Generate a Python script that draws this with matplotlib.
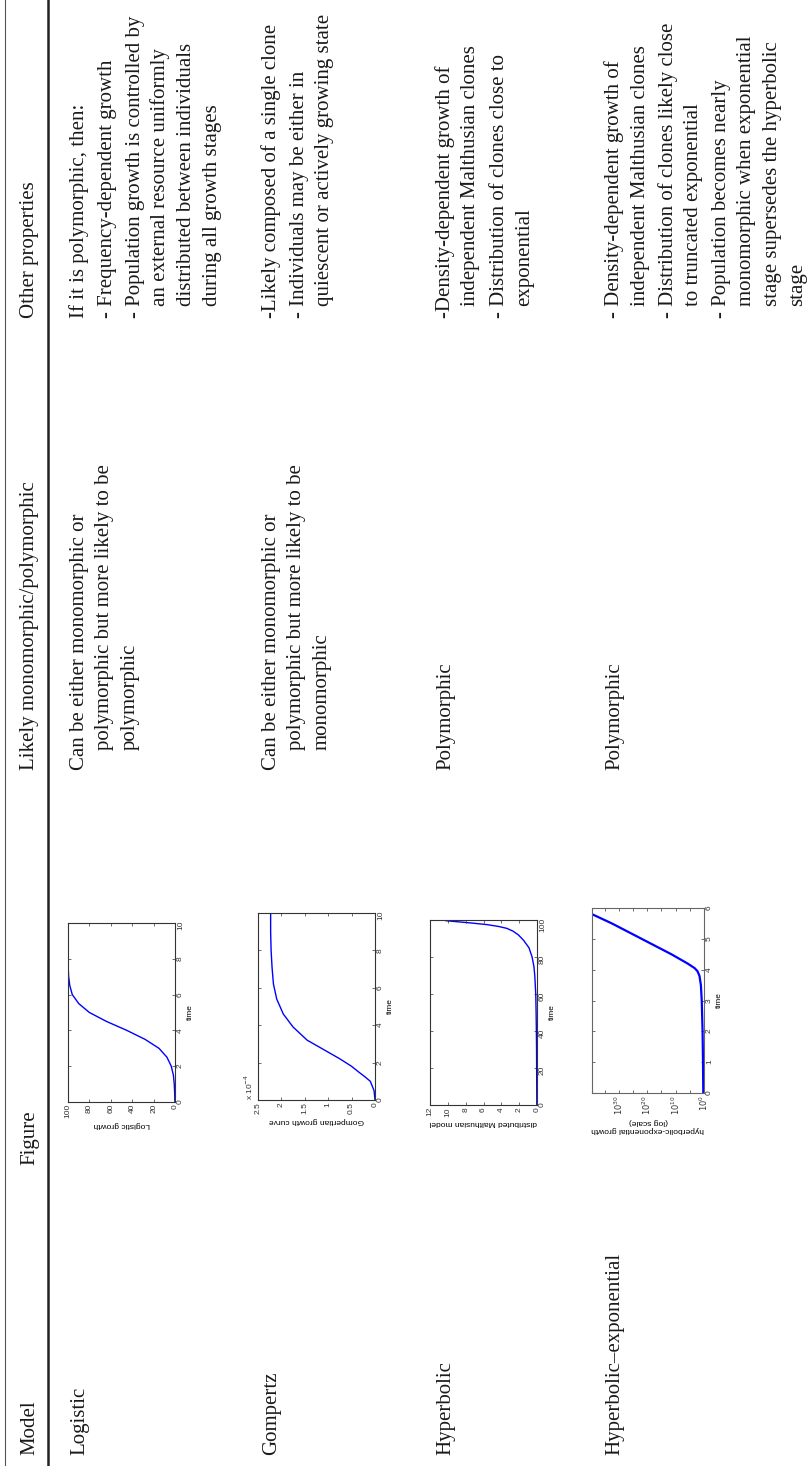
#!/usr/bin/env python3
"""
Rotated comparison table of growth models (page turned 90 degrees),
with a small MATLAB-style curve for each model in the Figure column.
"""

import numpy as np
import matplotlib.pyplot as plt
from matplotlib.ticker import FixedLocator, FuncFormatter, NullLocator

W, H = 810, 1466

HEADERS = ["Model", "Figure", "Likely monomorphic/polymorphic", "Other properties"]
MODELS = ["Logistic", "Gompertz", "Hyperbolic", "Hyperbolic\u2013exponential"]

LIKELY = [
    ["Can be either monomorphic or", "polymorphic but more likely to be", "polymorphic"],
    ["Can be either monomorphic or", "polymorphic but more likely to be", "monomorphic"],
    ["Polymorphic"],
    ["Polymorphic"],
]

OTHER = [
    ["If it is polymorphic, then:",
     "- Frequency-dependent growth",
     "- Population growth is controlled by",
     "an external resource uniformly",
     "distributed between individuals",
     "during all growth stages"],
    ["-Likely composed of a single clone",
     "- Individuals may be either in",
     "quiescent or actively growing state"],
    ["-Density-dependent growth of",
     "independent Malthusian clones",
     "- Distribution of clones close to",
     "exponential"],
    ["- Density-dependent growth of",
     "independent Malthusian clones",
     "- Distribution of clones likely close",
     "to truncated exponential",
     "- Population becomes nearly",
     "monomorphic when exponential",
     "stage supersedes the hyperbolic",
     "stage"],
]

# curves
logistic_time = [0, 0.5, 1, 1.5, 2, 2.5, 3, 3.5, 4, 4.5, 5, 5.5, 6, 6.5, 7, 7.5, 8, 10]
logistic_growth = [0.1, 0.3, 0.7, 1.5, 3.5, 7.5, 15, 28, 45, 64, 80, 90, 96, 98.3, 99.4, 99.8, 100, 100]

gompertz_time = [0, 0.5, 1, 1.25, 1.5, 1.8, 2.2, 2.7, 3.2, 3.9, 4.6, 5.4, 6.2, 7.1, 8, 9, 10]
gompertz_e4 = [0.0, 0.02, 0.1, 0.22, 0.35, 0.5, 0.75, 1.1, 1.45, 1.75, 1.96, 2.1, 2.17, 2.2, 2.22, 2.23, 2.23]

hyperbolic_time = [0, 10, 20, 30, 40, 50, 60, 70, 75, 80, 85, 89, 92, 94, 95.5, 96.5, 97.5, 98.3, 99, 99.6]
hyperbolic_value = [0.02, 0.03, 0.04, 0.05, 0.07, 0.1, 0.14, 0.25, 0.35, 0.55, 0.9, 1.5, 2.1, 2.7,
                    3.4, 4.3, 5.6, 7.2, 8.8, 10.2]

hypexp_time = [0, 1, 2, 3, 3.5, 3.8, 3.95, 4.05, 4.2, 4.5, 5, 5.5, 5.8]
hypexp_decades = [0.25, 0.35, 0.5, 0.8, 1.1, 1.6, 2.3, 3.3, 5.8, 11.5, 22, 32.5, 39.5]

# layout (pixels, y measured from the top of the image)
COL_START = [1455, 1165, 770, 318]
HEADER_BASE = 34
ROW_BASE = [84, 276, 450, 619]
LINE_STEP = 25.5
BULLET_GAP = 2.5
LIKELY_INDENT = 20
OTHER_INDENT = 12
FONT = "Liberation Serif"
FSIZE = 15

fig = plt.figure(figsize=(W / 100, H / 100), dpi=100)
ax0 = fig.add_axes([0, 0, 1, 1])
ax0.set_xlim(0, W)
ax0.set_ylim(H, 0)
ax0.axis("off")

ax0.plot([5, 5], [0, H], color="#555555", lw=0.8)
ax0.plot([48, 48], [0, H], color="#222222", lw=1.8)


def vtext(x, y, s):
    ax0.text(x, y, s, rotation=90, rotation_mode="anchor", ha="left", va="baseline",
             fontsize=FSIZE, family=FONT, color="#1a1a1a")


for col, head in enumerate(HEADERS):
    vtext(HEADER_BASE, COL_START[col], head)

for row, name in enumerate(MODELS):
    vtext(ROW_BASE[row], COL_START[0], name)

    for i, line in enumerate(LIKELY[row]):
        indent = LIKELY_INDENT if i > 0 else 0
        vtext(ROW_BASE[row] + i * LINE_STEP, COL_START[2] - indent, line)

    x = ROW_BASE[row]
    for i, line in enumerate(OTHER[row]):
        if i > 0:
            x += LINE_STEP
            if line.startswith("-"):
                x += BULLET_GAP
        indent = OTHER_INDENT if (i > 0 and not line.startswith("-")) else 0
        vtext(x, COL_START[3] - indent, line)


def mini_axes(box):
    x0, y0, x1, y1 = box
    return fig.add_axes([x0 / W, 1 - y1 / H, (x1 - x0) / W, (y1 - y0) / H])


def style_mini(ax, xlabel, frame="#333333"):
    for sp in ax.spines.values():
        sp.set_color(frame)
        sp.set_linewidth(0.8)
    ax.tick_params(direction="in", length=2.5, width=0.5, colors="#333333",
                   top=True, bottom=True, left=True, right=True,
                   labelleft=False, labelright=True, labelsize=6, pad=1.5)
    ax.tick_params(axis="x", labelrotation=90)
    ax.tick_params(axis="y", labelrotation=90)
    ax.yaxis.set_label_position("right")
    ax.set_ylabel("time", rotation=90, fontsize=6, labelpad=2, family="Liberation Sans")
    ax.set_xlabel(xlabel, rotation=180, fontsize=6, labelpad=2, family="Liberation Sans")
    for lbl in ax.get_xticklabels() + ax.get_yticklabels():
        lbl.set_family("Liberation Sans")


# Logistic
ax1 = mini_axes((68, 923, 175, 1102))
ax1.plot(logistic_growth, logistic_time, color="blue", lw=1.0)
ax1.set_xlim(100, 0)
ax1.set_ylim(0, 10)
ax1.set_xticks([0, 20, 40, 60, 80, 100])
ax1.set_yticks([0, 2, 4, 6, 8, 10])
style_mini(ax1, "Logistic growth")

# Gompertz
ax2 = mini_axes((258, 913, 375, 1100))
ax2.plot(gompertz_e4, gompertz_time, color="blue", lw=1.0)
ax2.set_xlim(2.5, 0)
ax2.set_ylim(0, 10)
ax2.set_xticks([0, 0.5, 1, 1.5, 2, 2.5])
ax2.set_xticklabels(["0", "0.5", "1", "1.5", "2", "2.5"])
ax2.set_yticks([0, 2, 4, 6, 8, 10])
style_mini(ax2, "Gompertian growth curve")
ax2.text(-0.04, 0.0, r"x 10$^{-4}$", transform=ax2.transAxes, rotation=90,
         rotation_mode="anchor", ha="left", va="baseline", fontsize=6,
         family="Liberation Sans", color="#333333")

# Hyperbolic
ax3 = mini_axes((430, 920, 537, 1105))
ax3.plot(hyperbolic_value, hyperbolic_time, color="blue", lw=1.0)
ax3.set_xlim(12, 0)
ax3.set_ylim(0, 100)
ax3.set_xticks([0, 2, 4, 6, 8, 10, 12])
ax3.set_yticks([0, 20, 40, 60, 80, 100])
style_mini(ax3, "distributed Malthusian model")

# Hyperbolic-exponential (log scale)
ax4 = mini_axes((592, 908, 704, 1093))
ax4.plot(10.0 ** np.array(hypexp_decades), hypexp_time, color="blue", lw=1.6)
ax4.set_xscale("log")
ax4.set_xlim(10 ** 39.5, 1)
ax4.set_ylim(0, 6)
ax4.xaxis.set_major_locator(FixedLocator([10.0 ** d for d in range(0, 40, 5)]))
ax4.xaxis.set_minor_locator(NullLocator())
ax4.xaxis.set_major_formatter(FuncFormatter(
    lambda v, pos: r"$10^{%d}$" % round(np.log10(v)) if round(np.log10(v)) % 10 == 0 else ""))
ax4.set_yticks([0, 1, 2, 3, 4, 5, 6])
style_mini(ax4, "hyperbolic-exponential growth\n(log scale)", frame="#666666")

fig.savefig("out.png", dpi=100)
